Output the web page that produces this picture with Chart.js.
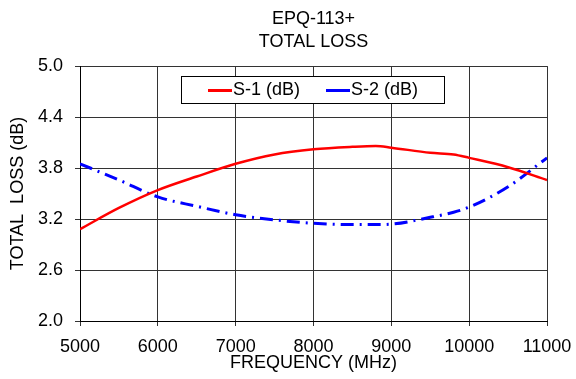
<!DOCTYPE html>
<html>
<head>
<meta charset="utf-8">
<script src="https://cdn.jsdelivr.net/npm/chart.js@4/dist/chart.umd.min.js"></script>
<style>
  html, body { margin: 0; padding: 0; background: #fff; }
</style>
</head>
<body>
<canvas id="lossChart" width="576" height="379"></canvas>
<script>
// Frequency points (MHz) and losses (dB)
const freqs = [5000, 5500, 6000, 6500, 7000, 7500, 8000, 8500, 8800, 9000, 9500, 9800, 10000, 10500, 11000];
const s1Loss = [3.08, 3.33, 3.54, 3.70, 3.85, 3.96, 4.02, 4.05, 4.06, 4.04, 3.98, 3.96, 3.92, 3.81, 3.66];
const s2Loss = [3.85, 3.66, 3.46, 3.35, 3.25, 3.19, 3.15, 3.135, 3.135, 3.14, 3.22, 3.28, 3.34, 3.58, 3.92];
const titleLines = ["EPQ-113+", "TOTAL LOSS"];

const font = "'Liberation Sans', Arial, sans-serif";

function pts(vals) {
  return freqs.map((f, i) => ({ x: f, y: vals[i] }));
}

// legend drawn inside the plot with a frame round it
const boxLegend = {
  id: 'boxLegend',
  afterDatasetsDraw(chart, args, opts) {
    const { ctx, chartArea } = chart;
    const left = Math.round(chartArea.left + opts.offsetX);
    const top = Math.round(chartArea.top + opts.offsetY);
    ctx.save();
    ctx.fillStyle = '#fff';
    ctx.fillRect(left, top, opts.width, opts.height);
    ctx.strokeStyle = '#000';
    ctx.lineWidth = 1;
    ctx.strokeRect(left + 0.5, top + 0.5, opts.width, opts.height);
    ctx.font = '18px ' + font;
    ctx.textBaseline = 'middle';
    ctx.fillStyle = '#000';
    let cx = left + opts.padLeft;
    const cy = top + opts.height / 2 + 1;
    chart.data.datasets.forEach(ds => {
      ctx.strokeStyle = ds.borderColor;
      ctx.lineWidth = 3;
      ctx.beginPath();
      ctx.moveTo(cx, cy);
      ctx.lineTo(cx + 24, cy);
      ctx.stroke();
      ctx.fillText(ds.label, cx + 25, cy);
      cx += 25 + ctx.measureText(ds.label).width + opts.gap;
    });
    ctx.restore();
  }
};

new Chart(document.getElementById("lossChart"), {
  type: 'line',
  data: {
    datasets: [
      {
        label: 'S-1 (dB)',
        data: pts(s1Loss),
        borderColor: '#ff0000',
        borderWidth: 2.5,
        pointRadius: 0,
        cubicInterpolationMode: 'monotone'
      },
      {
        label: 'S-2 (dB)',
        data: pts(s2Loss),
        borderColor: '#0000ff',
        borderWidth: 3,
        borderDash: [13, 6, 2, 6],
        pointRadius: 0,
        cubicInterpolationMode: 'monotone'
      }
    ]
  },
  options: {
    responsive: false,
    animation: false,
    layout: { padding: { left: 0, right: 29, top: 0, bottom: 0 } },
    plugins: {
      legend: { display: false },
      tooltip: { enabled: false },
      title: {
        display: true,
        fullSize: false,
        text: titleLines,
        color: '#000',
        font: { family: font, size: 18, weight: 'normal', lineHeight: 1.28 },
        padding: { top: 7.5, bottom: 12.5 }
      },
      boxLegend: { offsetX: 101, offsetY: 10, width: 263, height: 27, padLeft: 27, gap: 26 }
    },
    scales: {
      x: {
        type: 'linear',
        min: 5000,
        max: 11000,
        afterFit: s => { s.height = 58; s.paddingLeft = 0; s.paddingRight = 0; },
        ticks: {
          stepSize: 1000,
          color: '#000',
          padding: 10,
          font: { family: font, size: 18 },
          callback: v => String(v)
        },
        grid: { color: '#333', lineWidth: 1, tickLength: 5, tickColor: '#333' },
        border: { color: '#000' },
        title: {
          display: true,
          text: 'FREQUENCY (MHz)',
          color: '#000',
          font: { family: font, size: 18 },
          padding: { top: 0, bottom: 5 }
        }
      },
      y: {
        min: 2,
        max: 5,
        afterFit: s => { s.width = 80; s.paddingTop = 0; s.paddingBottom = 0; },
        ticks: {
          stepSize: 0.6,
          color: '#000',
          padding: 12,
          font: { family: font, size: 18 },
          callback: v => v.toFixed(1)
        },
        grid: { color: '#333', lineWidth: 1, tickLength: 5, tickColor: '#333' },
        border: { color: '#000' },
        title: {
          display: true,
          text: 'TOTAL  LOSS (dB)',
          color: '#000',
          font: { family: font, size: 18 },
          padding: { top: 7, bottom: 0 }
        }
      }
    }
  },
  plugins: [boxLegend]
});
</script>
</body>
</html>
